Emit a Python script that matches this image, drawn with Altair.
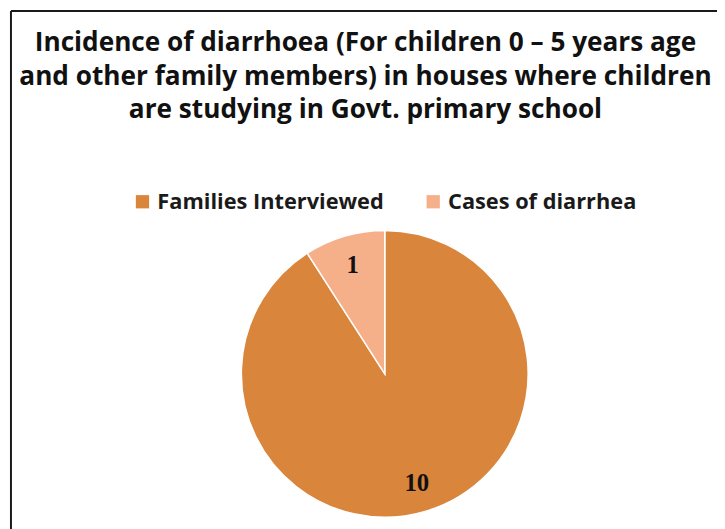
import altair as alt
import pandas as pd

# ---- data ----
categories = ["Families Interviewed", "Cases of diarrhea"]
values = [10, 1]
slice_order = [0, 1]
colors = ["#D9853B", "#F5B08A"]
title_lines = [
    "Incidence of diarrhoea (For children 0 \u2013 5 years age",
    "and other family members) in houses where children",
    "are studying in Govt. primary school",
]

df = pd.DataFrame({"category": categories, "value": values, "idx": slice_order})
frame_df = pd.DataFrame({"k": [0]})

# ---- layout ----
T = 120            # top padding reserved for title
W, H = 717, 521 - T
cx, cy = 381, 375 - 8 - T
R = 145

base = alt.Chart(df).encode(
    theta=alt.Theta("value:Q", stack=True),
    order=alt.Order("idx:Q"),
)

pie = base.mark_arc(stroke="white", strokeWidth=1.5).encode(
    color=alt.Color(
        "category:N",
        scale=alt.Scale(domain=categories, range=colors),
        legend=alt.Legend(
            orient="none",
            legendX=125,
            legendY=62,
            direction="horizontal",
            title=None,
            symbolType="square",
            symbolSize=180,
            symbolStrokeWidth=0,
            symbolOpacity=1,
            labelFont="Open Sans",
            labelFontSize=22,
            labelFontWeight="bold",
            labelColor="#1a1a1a",
            labelOffset=4,
            labelLimit=0,
            columnPadding=38,
        ),
    ),
    x=alt.value(cx),
    y=alt.value(cy),
    radius=alt.value(R),
)

labels = base.mark_text(
    font="Liberation Serif", fontWeight="bold", fontSize=25, color="#111111"
).encode(
    text=alt.Text("value:Q"),
    x=alt.value(cx),
    y=alt.value(cy),
    radius=alt.value(115),
)

border_left = alt.Chart(frame_df).mark_rule(color="#1a1a1a", strokeWidth=2).encode(
    x=alt.value(3), y=alt.value(-T), y2=alt.value(H + 10)
)
border_top = alt.Chart(frame_df).mark_rule(color="#1a1a1a", strokeWidth=2).encode(
    x=alt.value(3), x2=alt.value(W + 10), y=alt.value(-T)
)

chart = alt.layer(border_left, border_top, pie, labels).properties(
    width=W,
    height=H,
    title=alt.TitleParams(
        text=title_lines,
        anchor="middle",
        font="Open Sans",
        fontSize=26.5,
        fontWeight="bold",
        color="#111111",
        lineHeight=34,
        offset=0,
        dx=3,
        dy=115,
    ),
    padding={"left": 0, "top": T, "right": 0, "bottom": 0},
    autosize=alt.AutoSizeParams(type="none"),
    background="white",
).configure_view(stroke=None)

chart.save("out.html", embed_options={"renderer": "svg", "actions": False})
